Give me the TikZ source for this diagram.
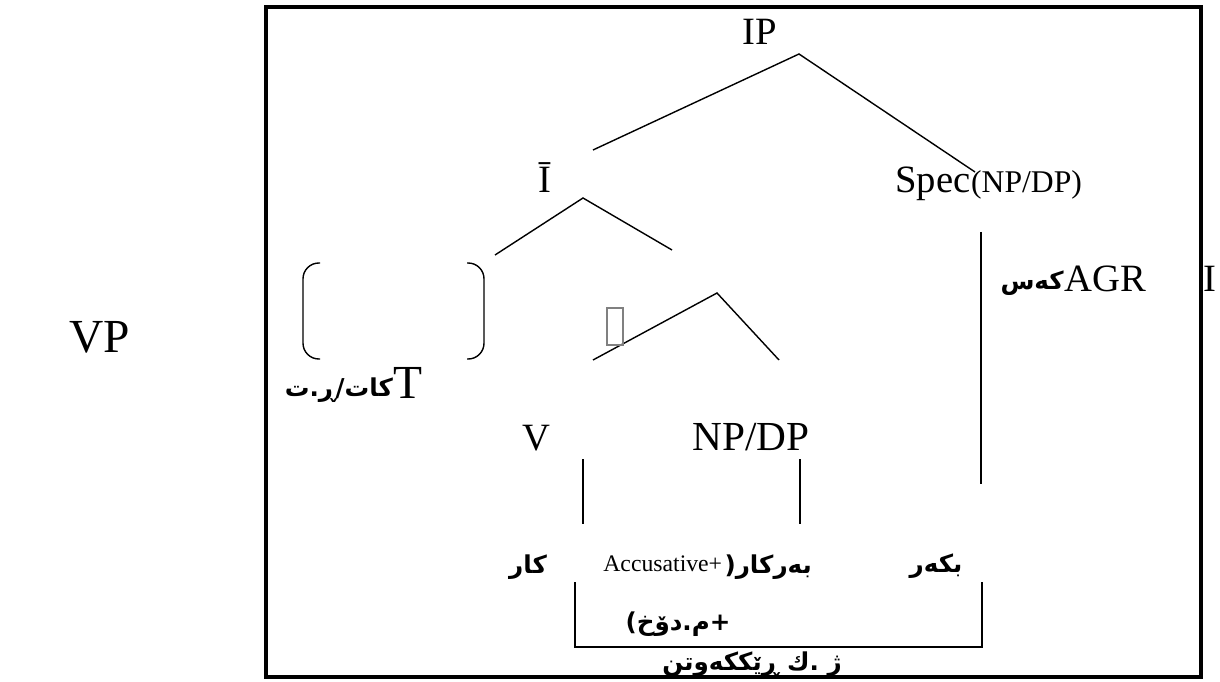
\documentclass[tikz,border=0pt]{standalone}
\usepackage{fontspec}
\usepackage{tikz}
\setmainfont{Liberation Serif}
\newfontfamily\kurdfont[Script=Arabic]{DejaVu Sans}
\TeXXeTstate=1

\tikzset{
  etiq/.style={font=\fontsize{22}{26}\selectfont, inner sep=0pt},
  etiqg/.style={font=\fontsize{27}{30}\selectfont, inner sep=0pt},
  etiqp/.style={font=\fontsize{18}{21}\selectfont, inner sep=0pt},
  etiqc/.style={font=\fontsize{13.5}{16}\selectfont, inner sep=0pt},
  kurdo/.style={font=\kurdfont\bfseries\fontsize{14}{17}\selectfont, inner sep=0pt},
  rama/.style={line width=0.8pt},
  marco/.style={line width=1.8pt}
}

\begin{document}
\begin{tikzpicture}[x=0.02cm, y=-0.02cm]
\useasboundingbox (0,0) rectangle (1220,682);

% Marco
\draw[marco] (266,7) rectangle (1201,677);

% Etiquetas del arbol
\node[etiq, anchor=base] (ip) at (760,45) {IP};
\node[etiq, anchor=base] (ibar) at (545,193) {Ī};
\node[etiq, anchor=base west] (spec) at (895,193) {Spec};
\node[etiqp, anchor=base west] (specnp) at (spec.base east) {(NP/DP)};
\node[etiqg, anchor=base] (vp) at (100,352) {VP};
\node[etiq, anchor=base west] (agr) at (1064,291) {AGR};
\node[kurdo, anchor=base east] (kas) at ([yshift=1pt]agr.base west) {\beginR کەس\endR};
\node[etiq, anchor=base west] (ider) at (1203,291) {I};
\node[etiqg, anchor=base east] (t) at (423,398) {T};
\node[kurdo, anchor=base east] (kat) at ([yshift=1pt]t.base west) {\beginR کات/ڕ.ت\endR};
\node[etiq, anchor=base] (v) at (536,450) {V};
\node[etiq, font=\fontsize{23.5}{27}\selectfont, anchor=base] (npdp) at (751,450) {NP/DP};

% Palabras de abajo
\node[kurdo] (kar) at (528,567) {\beginR کار\endR};
\node[etiqc, anchor=base west] (acc) at (603,571) {Accusative+};
\node[kurdo, anchor=west] (barkar) at ([xshift=1pt]acc.east |- kar) {\beginR بەرکار(\endR};
\node[kurdo] (bkar) at (936,566) {\beginR بکەر\endR};
\node[kurdo] (mdox) at (678,624) {\beginR +م.دۆخ)\endR};
\node[kurdo] (rek) at (752,664) {\beginR ژ .ك ڕێککەوتن\endR};

% Puntos de las ramas
\coordinate (ipa) at (799,54);
\coordinate (ipl) at (593,150);
\coordinate (ipr) at (975,172);
\coordinate (iba) at (583,198);
\coordinate (ibl) at (495,255);
\coordinate (ibr) at (672,250);
\coordinate (vpa) at (717,293);
\coordinate (vpl) at (593,360);
\coordinate (vpr) at (779,360);

% Ramas
\draw[rama] (ipl) -- (ipa) -- (ipr);
\draw[rama] (ibl) -- (iba) -- (ibr);
\draw[rama] (vpl) -- (vpa) -- (vpr);

% Lineas verticales
\draw[rama] (981,232) -- (981,484);
\draw[rama] (583,459) -- (583,524);
\draw[rama] (800,459) -- (800,524);

% Corchetes de T
\draw[rama, rounded corners=9pt] (320,263) -- (303,263) -- (303,359) -- (320,359);
\draw[rama, rounded corners=9pt] (467,263) -- (484,263) -- (484,359) -- (467,359);

% Simbolo perdido
\draw[gray, line width=0.6pt] (607,308) rectangle (623,345);

% Concordancia
\draw[rama] (575,582) -- (575,647) -- (982,647) -- (982,582);

\end{tikzpicture}
\end{document}
